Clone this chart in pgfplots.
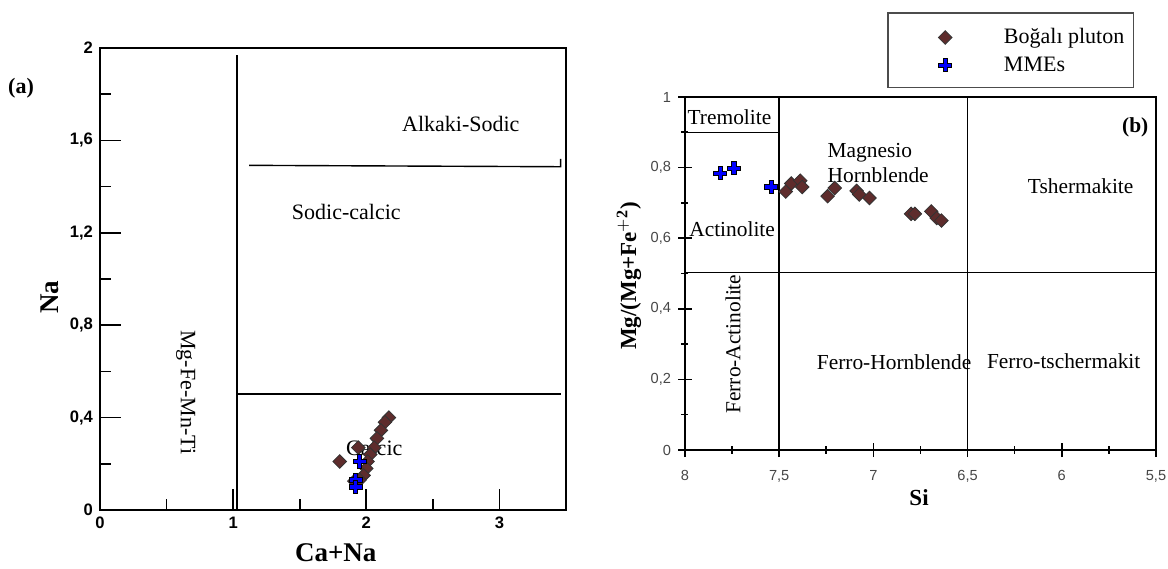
\documentclass[border=0pt]{standalone}
\usepackage{fontspec}
\setmainfont{Liberation Serif}
\newfontfamily\sansf{Liberation Sans}
\usepackage{pgfplots}
\pgfplotsset{compat=1.18}
\definecolor{brn}{RGB}{94,44,44}
\definecolor{tickgray}{RGB}{70,70,70}
\pgfdeclareplotmark{fatplus}{%
  \pgfpathmoveto{\pgfpoint{-\pgfplotmarksize}{-0.33\pgfplotmarksize}}%
  \pgfpathlineto{\pgfpoint{-0.33\pgfplotmarksize}{-0.33\pgfplotmarksize}}%
  \pgfpathlineto{\pgfpoint{-0.33\pgfplotmarksize}{-\pgfplotmarksize}}%
  \pgfpathlineto{\pgfpoint{0.33\pgfplotmarksize}{-\pgfplotmarksize}}%
  \pgfpathlineto{\pgfpoint{0.33\pgfplotmarksize}{-0.33\pgfplotmarksize}}%
  \pgfpathlineto{\pgfpoint{\pgfplotmarksize}{-0.33\pgfplotmarksize}}%
  \pgfpathlineto{\pgfpoint{\pgfplotmarksize}{0.33\pgfplotmarksize}}%
  \pgfpathlineto{\pgfpoint{0.33\pgfplotmarksize}{0.33\pgfplotmarksize}}%
  \pgfpathlineto{\pgfpoint{0.33\pgfplotmarksize}{\pgfplotmarksize}}%
  \pgfpathlineto{\pgfpoint{-0.33\pgfplotmarksize}{\pgfplotmarksize}}%
  \pgfpathlineto{\pgfpoint{-0.33\pgfplotmarksize}{0.33\pgfplotmarksize}}%
  \pgfpathlineto{\pgfpoint{-\pgfplotmarksize}{0.33\pgfplotmarksize}}%
  \pgfpathclose
  \pgfusepathqfillstroke}
\pgfplotsset{
  bog/.style={only marks, mark=square*, mark size=2.4pt,
    mark options={rotate=45, fill=brn, draw=black!80, line width=0.4pt}},
  mme/.style={only marks, mark=fatplus, mark size=3.3pt,
    mark options={fill=blue, draw=black, line width=0.5pt}},
}
\begin{document}
\begin{tikzpicture}
\path[use as bounding box] (0,0) rectangle (584pt,284pt);
\node[font=\bfseries\fontsize{11}{11}\selectfont] at (10.5pt,240pt) {(a)};
% ---------- left plot ----------
\begin{axis}[
  at={(50pt,29pt)}, anchor=south west,
  scale only axis, width=233pt, height=231pt,
  xmin=0, xmax=3.5, ymin=0, ymax=2,
  axis line style={line width=0.9pt},
  xtick={1,2,3}, minor xtick={0.5,1.5,2.5},
  extra x ticks={0}, extra x tick style={major tick length=0pt},
  extra x tick labels={0},
  ytick={0.4,0.8,1.2,1.6}, minor ytick={0.2,0.6,1.0,1.4,1.8},
  extra y ticks={0,2}, extra y tick labels={0,2},
  extra y tick style={major tick length=0pt},
  xticklabels={1,2,3},
  yticklabels={{0,4},{0,8},{1,2},{1,6}},
  xtick pos=bottom, ytick pos=left, tick align=inside,
  major tick length=10.5pt, minor tick length=5.5pt,
  every tick/.style={line width=0.8pt, black},
  tick label style={font=\sansf\bfseries\fontsize{8.3}{8.3}\selectfont},
  xlabel={\bfseries Ca+Na}, ylabel={\bfseries Na},
  label style={font=\fontsize{13.5}{13.5}\selectfont},
  xlabel style={at={(axis description cs:0.506,-0.093)}, anchor=center},
  ylabel style={at={(axis description cs:-0.107,0.461)}, anchor=center},
  clip=false,
]
\draw[line width=0.7pt] (axis cs:1.03,0) -- (axis cs:1.03,1.97);
\draw[line width=0.7pt] (axis cs:1.12,1.492) -- (axis cs:3.46,1.486) -- (axis cs:3.46,1.52);
\draw[line width=0.7pt] (axis cs:1.03,0.502) -- (axis cs:3.46,0.502);
\node[font=\fontsize{11}{11}\selectfont] at (axis cs:2.71,1.67) {Alkaki-Sodic};
\node[font=\fontsize{11}{11}\selectfont] at (axis cs:1.85,1.29) {Sodic-calcic};
\node[font=\fontsize{11}{11}\selectfont, rotate=-90] at (axis cs:0.645,0.51) {Mg-Fe-Mn-Ti};
\addplot[bog] coordinates {
(2.17,0.40) (2.14,0.38) (2.11,0.345) (2.08,0.31) (2.06,0.27) (1.94,0.27)
(2.03,0.24) (2.01,0.21) (2.00,0.18) (1.98,0.15) (1.91,0.125) (1.95,0.13) (1.80,0.21)};
\node[font=\fontsize{11}{11}\selectfont] at (axis cs:2.06,0.27) {Calcic};
\addplot[mme] coordinates {(1.95,0.21) (1.92,0.13) (1.92,0.10)};
\end{axis}
% ---------- right plot ----------
\begin{axis}[
  at={(342.5pt,59pt)}, anchor=south west,
  scale only axis, width=235.5pt, height=176.5pt,
  x dir=reverse,
  xmin=5.5, xmax=8, ymin=0, ymax=1,
  axis line style={line width=0.9pt},
  xtick={5.5,6,6.5,7,7.5,8}, minor xtick={5.75,6.25,6.75,7.25,7.75},
  ytick={0,0.2,0.4,0.6,0.8,1}, minor ytick={0.1,0.3,0.5,0.7,0.9},
  xticklabels={{5,5},6,{6,5},7,{7,5},8},
  yticklabels={0,{0,2},{0,4},{0,6},{0,8},1},
  xtick pos=bottom, ytick pos=left,
  major tick length=7pt, minor tick length=3.5pt,
  tick align=center,
  minor tick style={/pgfplots/tick align=inside},
  every tick/.style={line width=0.8pt, black},
  tick label style={font=\sansf\fontsize{7.3}{7.3}\selectfont, text=tickgray},
  xticklabel style={yshift=-3pt},
  xlabel={\bfseries Si}, ylabel={\bfseries Mg/(Mg+Fe$^{\mathbf{+2}}$)},
  label style={font=\fontsize{11.5}{11.5}\selectfont},
  xlabel style={at={(axis description cs:0.497,-0.136)}, anchor=center},
  ylabel style={at={(axis description cs:-0.119,0.493)}, anchor=center},
  clip=false,
  legend style={at={(axis description cs:0.431,1.238)}, anchor=north west,
    draw=none, fill=none, inner xsep=25pt, inner ysep=5.5pt,
    font=\fontsize{11}{11}\selectfont, row sep=1pt,
    cells={anchor=west}},
]
\draw[line width=0.7pt] (axis cs:7.5,0) -- (axis cs:7.5,1);
\draw[line width=0.7pt] (axis cs:6.5,0) -- (axis cs:6.5,1);
\draw[line width=0.7pt] (axis cs:8,0.503) -- (axis cs:5.5,0.503);
\draw[line width=0.7pt] (axis cs:8,0.899) -- (axis cs:7.5,0.899);
\draw[black!70, line width=0.6pt] (axis description cs:0.431,1.028) rectangle (axis description cs:0.953,1.238);
\addplot[bog] coordinates {
(7.465,0.732) (7.436,0.755) (7.388,0.763) (7.378,0.745) (7.243,0.719) (7.205,0.742)
(7.089,0.734) (7.075,0.724) (7.021,0.714) (6.80,0.669) (6.78,0.669) (6.693,0.676)
(6.664,0.657) (6.639,0.650)};
\addlegendentry{\hspace*{24pt}Boğalı pluton}
\addplot[mme] coordinates {(7.813,0.784) (7.739,0.798) (7.542,0.745)};
\addlegendentry{\hspace*{24pt}MMEs}
\node[font=\fontsize{10.7}{10.7}\selectfont] at (axis cs:7.764,0.943) {Tremolite};
\node[font=\fontsize{10.7}{10.7}\selectfont] at (axis cs:7.75,0.626) {Actinolite};
\node[font=\fontsize{10.7}{10.7}\selectfont, rotate=90] at (axis cs:7.745,0.30) {Ferro-Actinolite};
\node[font=\fontsize{10.7}{12.5}\selectfont, align=left, anchor=west] at (axis cs:7.28,0.813) {Magnesio\\Hornblende};
\node[font=\fontsize{10.7}{10.7}\selectfont] at (axis cs:5.90,0.748) {Tshermakite};
\node[font=\fontsize{10.7}{10.7}\selectfont] at (axis cs:6.89,0.25) {Ferro-Hornblende};
\node[font=\fontsize{10.7}{10.7}\selectfont] at (axis cs:5.99,0.253) {Ferro-tschermakit};
\node[font=\bfseries\fontsize{10.7}{10.7}\selectfont] at (axis cs:5.61,0.914) {(b)};
\end{axis}
\end{tikzpicture}
\end{document}
